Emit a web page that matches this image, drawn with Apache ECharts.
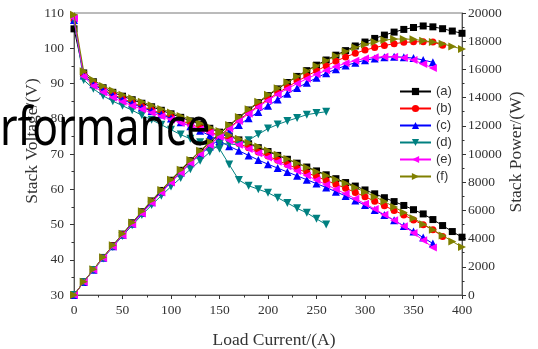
<!DOCTYPE html>
<html><head><meta charset="utf-8">
<script src="https://cdn.jsdelivr.net/npm/echarts@6/dist/echarts.min.js"></script>
<style>html,body{margin:0;padding:0;background:#fff}#c{width:538px;height:349px}</style>
</head><body><div id="c"></div>
<script>
const current = [0,10,20,30,40,50,60,70,80,90,100,110,120,130,140,150,160,170,180,190,200,210,220,230,240,250,260,270,280,290,300,310,320,330,340,350,360,370,380,390,400];
const seriesNames = ['(a)','(b)','(c)','(d)','(e)','(f)'];
const xTicks = [0,50,100,150,200,250,300,350,400];

const voltA = [105.5,93,90.5,88.8,87.5,86.4,85.4,84.4,83.4,82.4,81.4,80.4,79.4,78.4,77.3,76.2,75.1,74,72.9,71.8,70.7,69.6,68.5,67.4,66.3,65.2,64.1,63,61.9,60.9,59.8,58.7,57.6,56.5,55.4,54.2,53,51.4,49.7,48,46.4];
const voltB = [108,92.5,90,88.3,86.9,85.7,84.6,83.5,82.5,81.5,80.5,79.5,78.5,77.4,76.3,75.2,74.1,73,71.8,70.6,69.4,68.2,67,65.9,64.7,63.6,62.5,61.4,60.3,59.1,57.9,56.6,55.3,54,52.7,51.3,49.9,48.5,46.6];
const voltC = [108,92.3,89.8,88,86.6,85.4,84.3,83.2,82.2,81.2,80.1,79,77.9,76.6,75.2,73.7,72.2,70.9,69.6,68.3,67.1,66,64.9,63.8,62.7,61.6,60.5,59.3,58.1,56.8,55.5,54.1,52.7,51.2,49.6,48,46.3,44.6];
const voltD = [108,91,88.5,86.5,85,83.7,82.4,81,79.7,78.3,76.9,75.5,74.3,73.3,72.4,71.5,67,62.6,61,60,59,57.6,56.1,54.6,53.3,51.6,50];
const voltE = [108.5,92,89.3,87.5,86,84.8,83.7,82.7,81.7,80.7,79.8,78.9,78,77,76,74.9,73.8,72.6,71.4,70.2,69,67.8,66.5,65.2,63.9,62.6,61.3,60,58.7,57.3,55.9,54.4,52.8,51.2,49.5,47.6,45.5,43.5];
const voltF = [109.5,93.5,91,89.3,88,86.8,85.8,84.8,83.8,82.8,81.8,80.8,79.8,78.7,77.6,76.5,75.4,74.3,73.2,72.1,71,69.8,68.6,67.4,66.2,65,63.9,62.8,61.7,60.5,59.2,57.9,56.5,55,53.4,51.8,50.1,48.5,46.9,45.2,43.6];

const powerA = [0,930,1810,2664,3500,4320,5124,5908,6672,7416,8140,8844,9528,10192,10822,11430,12016,12580,13122,13642,14140,14616,15070,15502,15912,16300,16666,17010,17332,17661,17940,18197,18432,18645,18836,18970,19080,19018,18886,18720,18560];
const powerB = [0,925,1800,2649,3476,4285,5076,5845,6600,7335,8050,8745,9420,10062,10682,11280,11856,12410,12924,13414,13880,14322,14740,15157,15528,15900,16250,16578,16884,17139,17370,17546,17696,17820,17918,17955,17964,17945,17708];
const powerC = [0,923,1796,2640,3464,4270,5058,5824,6576,7308,8010,8690,9348,9958,10528,11055,11552,12053,12528,12977,13420,13860,14278,14674,15048,15400,15730,16011,16268,16472,16650,16771,16864,16896,16864,16800,16668,16502];
const powerD = [0,910,1770,2595,3400,4185,4944,5670,6376,7047,7690,8305,8916,9529,10136,10725,10720,10642,10980,11400,11800,12096,12342,12558,12792,12900,13000];
const powerE = [0,920,1786,2625,3440,4240,5022,5789,6536,7263,7980,8679,9360,10010,10640,11235,11808,12342,12852,13338,13800,14238,14630,14996,15336,15650,15938,16200,16436,16617,16770,16864,16896,16896,16830,16660,16380,16095];
const powerF = [0,935,1820,2679,3520,4340,5148,5936,6704,7452,8180,8888,9576,10231,10864,11475,12064,12631,13176,13699,14200,14658,15092,15502,15888,16250,16614,16956,17276,17545,17760,17949,18080,18150,18156,18130,18036,17945,17822,17628,17440];

const volts = [voltA, voltB, voltC, voltD, voltE, voltF];
const powers = [powerA, powerB, powerC, powerD, powerE, powerF];
const colors = ['#000000','#ff0000','#0000ff','#008080','#ff00ff','#808000'];
const symbols = ['rect','circle','triangle','triangle','triangle','triangle'];
const rotations = [0,0,0,180,90,-90];
const sizes = [7,7,8,8,8,8];

const pairs = arr => arr.map((v,i)=>[current[i], v]);
const series = [];
for (let k=0;k<6;k++){
  const common = {
    type:'line', name:seriesNames[k], symbol:symbols[k], symbolRotate:rotations[k], symbolSize:sizes[k],
    showAllSymbol:true, color:colors[k], lineStyle:{width:1,color:colors[k]}, itemStyle:{color:colors[k]},
    z: 2+k, animation:false
  };
  series.push(Object.assign({}, common, {xAxisIndex:0, yAxisIndex:0, data:pairs(volts[k])}));
  series.push(Object.assign({}, common, {xAxisIndex:0, yAxisIndex:1, data:pairs(powers[k])}));
}

const serif = '"Liberation Serif", "DejaVu Serif", serif';
const axisCommon = {
  axisLine:{show:true, lineStyle:{color:'#555', width:1}},
  axisTick:{show:true, inside:false, length:4, lineStyle:{color:'#333'}},
  minorTick:{show:true, splitNumber:2, length:2.5, lineStyle:{color:'#333'}},
  splitLine:{show:false},
  axisLabel:{fontFamily:serif, fontSize:13.5, color:'#333'}
};
const nameFont = '17.5px "Liberation Serif", "DejaVu Serif", serif';

const chart = echarts.init(document.getElementById('c'), null, {renderer:'canvas'});
chart.setOption({
  animation:false,
  backgroundColor:'#fff',
  grid:{left:74, right:76, top:13, bottom:54, show:true, borderColor:'#777', borderWidth:1, containLabel:false, outerBoundsMode:'none'},
  legend:{
    data:seriesNames, orient:'vertical', left:394, top:80, itemWidth:31, itemHeight:9, itemGap:4,
    textStyle:{fontFamily:'"Liberation Sans", Arial, sans-serif', fontSize:13, color:'#333'}
  },
  xAxis:[Object.assign({}, axisCommon, {
    type:'value', min:xTicks[0], max:xTicks[xTicks.length-1], interval:50,
    axisLabel:Object.assign({}, axisCommon.axisLabel, {margin:8})
  })],
  yAxis:[
    Object.assign({}, axisCommon, {
      type:'value', min:30, max:110, interval:10, position:'left',
      axisLabel:Object.assign({}, axisCommon.axisLabel, {margin:10})
    }),
    Object.assign({}, axisCommon, {
      type:'value', min:0, max:20000, interval:2000, position:'right',
      axisLabel:Object.assign({}, axisCommon.axisLabel, {margin:6, formatter:v=>String(v)})
    })
  ],
  series:series,
  graphic:[
    {type:'text', x:274, y:340, z:50,
     style:{text:'Load Current/(A)', font:nameFont, fill:'#333', align:'center', verticalAlign:'middle'}},
    {type:'text', x:32, y:141, rotation:Math.PI/2, z:50,
     style:{text:'Stack Voltage/(V)', font:nameFont, fill:'#333', align:'center', verticalAlign:'middle'}},
    {type:'text', x:516, y:152, rotation:Math.PI/2, z:50,
     style:{text:'Stack Power/(W)', font:nameFont, fill:'#333', align:'center', verticalAlign:'middle'}},
    {type:'text', left:0, top:104, z:100, scaleX:0.82,
     style:{text:'rformance', font:'52px "Noto Sans", "Open Sans", sans-serif', fill:'#000'}}
  ]
});
</script></body></html>
